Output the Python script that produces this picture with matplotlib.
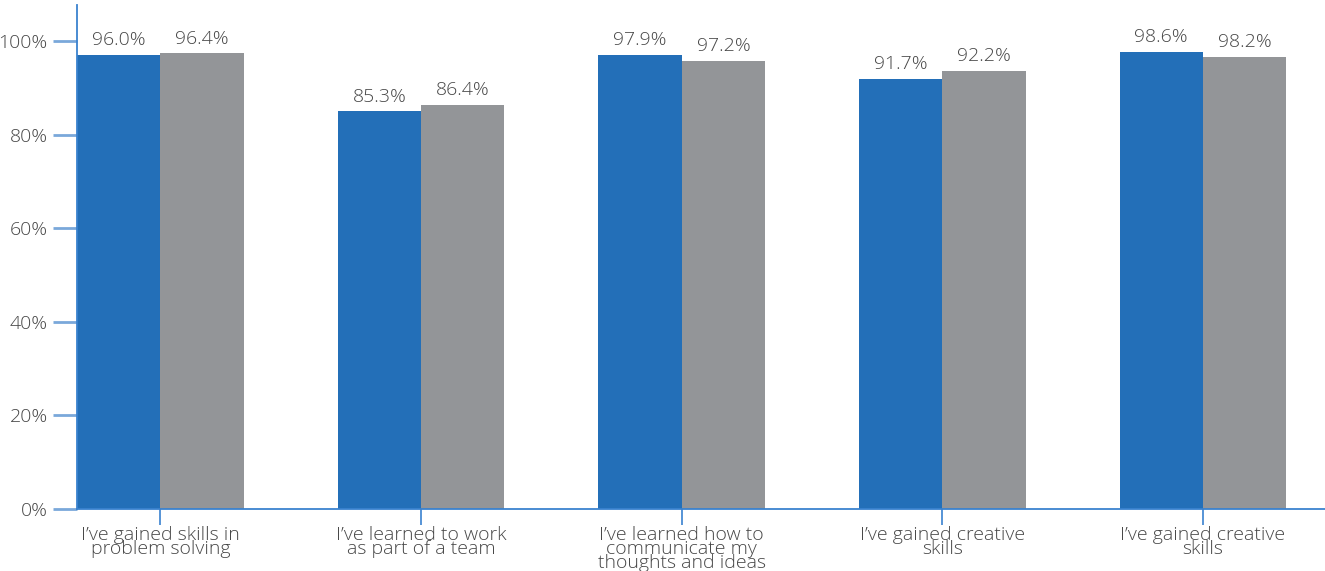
import matplotlib
matplotlib.use("Agg")
import matplotlib.pyplot as plt
import numpy as np

categories = [
    "I\u2019ve gained skills in\nproblem solving",
    "I\u2019ve learned to work\nas part of a team",
    "I\u2019ve learned how to\ncommunicate my\nthoughts and ideas",
    "I\u2019ve gained creative\nskills",
    "I\u2019ve gained creative\nskills",
]
blue_heights = [97.1, 85.1, 97.1, 92.0, 97.8]
gray_heights = [97.5, 86.4, 95.8, 93.7, 96.7]
blue_labels = ["96.0%", "85.3%", "97.9%", "91.7%", "98.6%"]
gray_labels = ["96.4%", "86.4%", "97.2%", "92.2%", "98.2%"]
yticks = [0, 20, 40, 60, 80, 100]
ytick_labels = ["0%", "20%", "40%", "60%", "80%", "100%"]

BLUE = "#236fb8"
GRAY = "#939598"
AXIS = "#3a82cf"
TICKY = "#7aa8da"
TEXT = "#474747"

plt.rcParams['font.family'] = ['Open Sans', 'DejaVu Sans']
FW = "light"
FS = 14

W, H = 1325, 571
fig = plt.figure(figsize=(W / 100, H / 100), dpi=100)
ax = fig.add_axes([77 / W, (H - 509) / H, (W - 77) / W, (509 - 5) / H])

x = np.arange(len(categories))
w = 0.32
ax.bar(x - w / 2, blue_heights, w, color=BLUE, zorder=2)
ax.bar(x + w / 2, gray_heights, w, color=GRAY, zorder=2)

for xi, h, lab in zip(x - w / 2, blue_heights, blue_labels):
    ax.text(xi, h + 1.2, lab, ha="center", va="bottom", fontsize=FS,
            color=TEXT, fontweight=FW)
for xi, h, lab in zip(x + w / 2, gray_heights, gray_labels):
    ax.text(xi, h + 1.2, lab, ha="center", va="bottom", fontsize=FS,
            color=TEXT, fontweight=FW)

ax.set_xlim(-w, 4.468)
ax.set_ylim(0, 107.8)

ax.set_yticks(yticks)
ax.set_yticklabels(ytick_labels, fontsize=FS, color=TEXT, fontweight=FW)
ax.set_xticks(x)
ax.set_xticklabels(categories, fontsize=FS, color=TEXT, fontweight=FW,
                   linespacing=0.72, va="top")

ax.tick_params(axis="y", length=17, width=2, color=TICKY, pad=4)
ax.tick_params(axis="x", length=11.5, width=1.2, color=AXIS, pad=0.5)

for s in ["top", "right"]:
    ax.spines[s].set_visible(False)
for s in ["left", "bottom"]:
    ax.spines[s].set_color(AXIS)
    ax.spines[s].set_linewidth(1.3)

fig.savefig("out.png", dpi=100)
